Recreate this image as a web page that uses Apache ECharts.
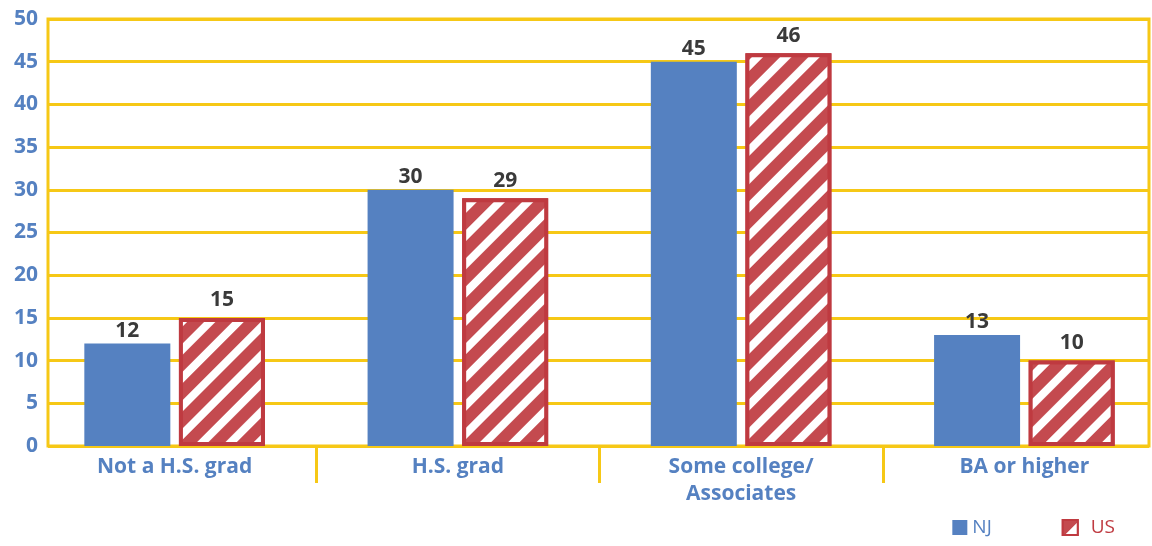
<!DOCTYPE html>
<html><head><meta charset="utf-8">
<script src="https://cdn.jsdelivr.net/npm/echarts@6/dist/echarts.min.js"></script>
<style>html,body{margin:0;padding:0;background:#fff}#c{width:1152px;height:546px}</style>
</head><body><div id="c"></div>
<script>
const categories = ['Not a H.S. grad', 'H.S. grad', 'Some college/\nAssociates', 'BA or higher'];
const njValues = [12, 30, 45, 13];
const usValues = [15, 29, 46, 10];
const yMin = 0, yMax = 50, yStep = 5;

const YEL = '#F6C816';
const BLUE = '#5581C1';
const RED = '#BF3A40';
const FONT = '"Open Sans"';

const chart = echarts.init(document.getElementById('c'), null, {renderer: 'canvas'});
chart.setOption({
  animation: false,
  grid: [
    {left: 48, right: 3, top: 19, bottom: 100, show: true, borderColor: YEL, borderWidth: 3, outerBoundsMode: 'none'},
    {left: 33, width: 1133, top: 19, bottom: 100, outerBoundsMode: 'none', containLabel: false}
  ],
  xAxis: [
    {gridIndex: 0, type: 'category', data: categories, show: false},
    {gridIndex: 1, type: 'category', data: categories,
      axisLine: {show: false},
      axisTick: {show: true, length: 37, lineStyle: {color: YEL, width: 3},
        interval: function (i) { return i > 0; }},
      axisLabel: {color: BLUE, fontFamily: FONT, fontWeight: 'bold', fontSize: 21, margin: 8, lineHeight: 27, interval: 0}
    }
  ],
  yAxis: [
    {gridIndex: 0, type: 'value', min: yMin, max: yMax, interval: yStep,
      axisLine: {show: false}, axisTick: {show: false},
      splitLine: {show: true, lineStyle: {color: YEL, width: 3}},
      axisLabel: {color: BLUE, fontFamily: FONT, fontWeight: 'bold', fontSize: 21, margin: 10}
    },
    {gridIndex: 1, type: 'value', min: yMin, max: yMax, interval: yStep, show: false, splitLine: {show: false}}
  ],
  legend: {
    right: 32, bottom: 4, itemWidth: 15, itemHeight: 15, itemGap: 70, icon: 'rect',
    textStyle: {fontFamily: FONT, fontSize: 19},
    data: [
      {name: 'NJ', textStyle: {color: BLUE}},
      {name: 'US', textStyle: {color: RED, padding: [0, 0, 0, 8]}}
    ]
  },
  series: [
    {name: 'NJ', type: 'bar', xAxisIndex: 1, yAxisIndex: 1, data: njValues,
      barWidth: 86, barGap: '10%',
      itemStyle: {color: BLUE},
      label: {show: true, position: 'top', distance: 2, color: '#3a3a3a', fontFamily: FONT, fontWeight: 'bold', fontSize: 21}
    },
    {name: 'US', type: 'bar', xAxisIndex: 1, yAxisIndex: 1, data: usValues,
      barWidth: 86,
      itemStyle: {color: '#ffffff', borderColor: RED, borderWidth: 4,
        decal: {symbol: 'rect', symbolSize: 1, dashArrayX: [1, 0], dashArrayY: [12, 8], rotation: -Math.PI / 4, color: '#C44A4F', backgroundColor: '#ffffff'}},
      label: {show: true, position: 'top', distance: 7, color: '#3a3a3a', fontFamily: FONT, fontWeight: 'bold', fontSize: 21}
    }
  ]
});
</script></body></html>
